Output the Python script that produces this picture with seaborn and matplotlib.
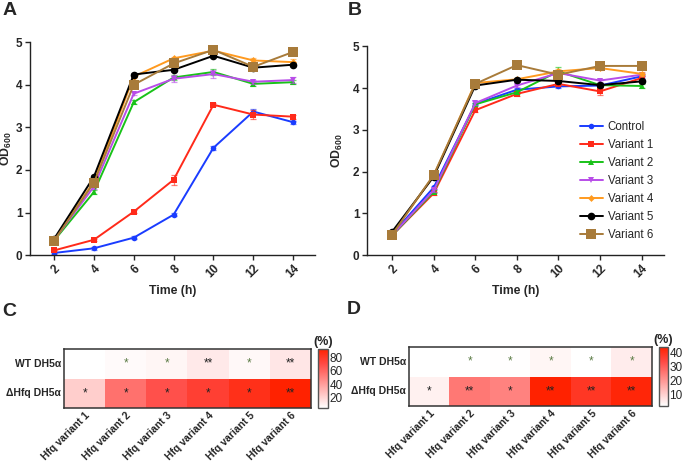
import numpy as np
import pandas as pd
import seaborn as sns
import matplotlib.pyplot as plt
from matplotlib.colors import LinearSegmentedColormap

time_h = [2, 4, 6, 8, 10, 12, 14]
strains = ['Control', 'Variant 1', 'Variant 2', 'Variant 3', 'Variant 4', 'Variant 5', 'Variant 6']

od_a = [
    [0.05, 0.16, 0.41, 0.95, 2.52, 3.37, 3.12],
    [0.11, 0.36, 1.02, 1.77, 3.53, 3.30, 3.25],
    [0.34, 1.48, 3.59, 4.17, 4.30, 4.02, 4.06],
    [0.35, 1.61, 3.79, 4.14, 4.25, 4.07, 4.11],
    [0.35, 1.73, 4.19, 4.62, 4.80, 4.57, 4.53],
    [0.38, 1.84, 4.24, 4.35, 4.68, 4.40, 4.47],
    [0.34, 1.70, 4.00, 4.50, 4.82, 4.42, 4.77],
]
sd_a = [
    [0.02, 0.03, 0.03, 0.04, 0.05, 0.06, 0.04],
    [0.02, 0.03, 0.04, 0.12, 0.04, 0.10, 0.05],
    [0.02, 0.05, 0.04, 0.06, 0.06, 0.04, 0.04],
    [0.02, 0.05, 0.04, 0.08, 0.10, 0.05, 0.06],
    [0.02, 0.04, 0.04, 0.04, 0.04, 0.05, 0.07],
    [0.02, 0.03, 0.03, 0.03, 0.04, 0.04, 0.04],
    [0.02, 0.04, 0.04, 0.04, 0.04, 0.05, 0.04],
]

od_b = [
    [0.50, 1.62, 3.62, 3.96, 4.04, 4.06, 4.28],
    [0.47, 1.48, 3.47, 3.86, 4.10, 3.92, 4.24],
    [0.47, 1.52, 3.61, 3.90, 4.40, 4.07, 4.05],
    [0.48, 1.55, 3.64, 4.06, 4.36, 4.18, 4.32],
    [0.50, 1.90, 4.12, 4.21, 4.40, 4.48, 4.34],
    [0.56, 1.88, 4.06, 4.20, 4.17, 4.07, 4.16],
    [0.49, 1.92, 4.10, 4.55, 4.32, 4.53, 4.53],
]
sd_b = [
    [0.02, 0.04, 0.03, 0.04, 0.04, 0.04, 0.04],
    [0.02, 0.04, 0.04, 0.04, 0.04, 0.08, 0.05],
    [0.02, 0.04, 0.04, 0.05, 0.10, 0.04, 0.04],
    [0.02, 0.04, 0.04, 0.04, 0.04, 0.04, 0.04],
    [0.02, 0.04, 0.04, 0.04, 0.05, 0.05, 0.04],
    [0.02, 0.04, 0.04, 0.04, 0.04, 0.04, 0.04],
    [0.02, 0.04, 0.04, 0.06, 0.06, 0.04, 0.04],
]

colors = ['#1a3cff', '#ff2a1a', '#19c219', '#b84de8', '#ff9a1f', '#000000', '#a87b3a']
markers = ['o', 's', '^', 'v', 'D', 'o', 's']
msizes = [4, 4.5, 4.5, 4.5, 3.5, 5.5, 6.5]

# heatmaps (%), C and D
row_labels = ['WT DH5α', 'ΔHfq DH5α']
col_labels = ['Hfq variant 1', 'Hfq variant 2', 'Hfq variant 3',
              'Hfq variant 4', 'Hfq variant 5', 'Hfq variant 6']
c_wt = [5, 7, 8.5, 13, 7.5, 14]
c_dhfq = [23, 56, 68, 76, 84, 92]
c_stars_wt = ['', '*', '*', '**', '*', '**']
c_stars_dhfq = ['*', '*', '*', '*', '*', '**']
d_wt = [2.3, 2.4, 2.5, 4, 2.4, 5.6]
d_dhfq = [4.8, 25.4, 23.7, 43.5, 38.1, 42.3]
d_stars_wt = ['', '*', '*', '*', '*', '*']
d_stars_dhfq = ['*', '**', '*', '**', '**', '**']

sns.set_style('white')
plt.rcParams['font.family'] = ['Liberation Sans', 'DejaVu Sans']
plt.rcParams['mathtext.fontset'] = 'custom'
plt.rcParams['mathtext.rm'] = 'Liberation Sans:bold'
plt.rcParams['mathtext.bf'] = 'Liberation Sans:bold'

fig = plt.figure(figsize=(6.85, 4.63), dpi=100)
ax_a = fig.add_axes([0.044, 0.449, 0.416, 0.460])
ax_b = fig.add_axes([0.536, 0.449, 0.434, 0.451])


def growth(ax, od, sd, ylab_x, legend=False):
    for i, name in enumerate(strains):
        ax.errorbar(time_h, od[i], yerr=sd[i], fmt='none', ecolor=colors[i],
                    elinewidth=0.9, capsize=2.5, capthick=0.9, alpha=0.6)
        sns.lineplot(x=time_h, y=od[i], ax=ax, color=colors[i], marker=markers[i],
                     markersize=msizes[i], markeredgewidth=0, linewidth=1.4, label=name)
    ax.set_xlim(0.8, 15.1)
    ax.set_ylim(0, 5)
    ax.set_xticks(time_h)
    ax.set_yticks([0, 1, 2, 3, 4, 5])
    for s in ['top', 'right']:
        ax.spines[s].set_visible(False)
    for s in ['left', 'bottom']:
        ax.spines[s].set_linewidth(1.0)
        ax.spines[s].set_color('#222222')
    ax.tick_params(direction='out', length=3.5, width=1, bottom=True, left=True,
                   labelsize=8.5, pad=2)
    for lab in ax.get_xticklabels():
        lab.set_rotation(45)
        lab.set_ha('right')
        lab.set_rotation_mode('anchor')
        lab.set_fontweight('bold')
    for lab in ax.get_yticklabels():
        lab.set_fontweight('bold')
    ax.set_xlabel('Time (h)', fontsize=8.8, fontweight='bold', labelpad=3)
    ax.set_ylabel(r'OD$_{600}$', fontsize=8.8, fontweight='bold')
    ax.yaxis.set_label_coords(ylab_x, 0.5)
    if legend:
        ax.legend(loc='center left', bbox_to_anchor=(0.695, 0.355), frameon=False,
                  fontsize=8.3, handlelength=2.0, handletextpad=0.45,
                  labelspacing=0.52, borderpad=0)
    else:
        ax.get_legend().remove()


growth(ax_a, od_a, sd_a, -0.056)
growth(ax_b, od_b, sd_b, -0.074, legend=True)

cmap = LinearSegmentedColormap.from_list(
    'wr', [(0, '#ffffff'), (0.75, '#ff4a45'), (1, '#ff2200')])


def heat(rect, crect, wt, dhfq, stars_wt, stars_dhfq, ticks):
    ax = fig.add_axes(rect)
    cax = fig.add_axes(crect)
    df = pd.DataFrame([wt, dhfq], index=row_labels, columns=col_labels)
    annot = np.array([stars_wt, stars_dhfq])
    sns.heatmap(df, ax=ax, cbar_ax=cax, cmap=cmap, annot=annot, fmt='',
                annot_kws={'fontsize': 8.5}, cbar_kws={'ticks': ticks})
    for k, t in enumerate(ax.texts):
        if k < 6 and t.get_text() == '*':
            t.set_color('#5b7b45')
        else:
            t.set_color('#222222')
    for s in ax.spines.values():
        s.set_visible(True)
        s.set_linewidth(1.1)
        s.set_color('#333333')
    ax.tick_params(length=0, labelsize=7.5, pad=2)
    ax.set_yticklabels(row_labels, rotation=0, fontweight='bold')
    ax.set_xticklabels(col_labels, rotation=45, ha='right', rotation_mode='anchor',
                       fontweight='bold', fontsize=7.5)
    ax.set_xlabel('')
    ax.set_ylabel('')
    cbar = ax.collections[0].colorbar
    cax.tick_params(direction='in', length=3, width=0.8, labelsize=8.5, pad=1)
    cbar.outline.set_linewidth(1.0)
    cbar.outline.set_edgecolor('#555555')
    cax.set_title('(%)', fontsize=9, fontweight='bold', pad=3)


heat([0.0934, 0.1188, 0.3606, 0.1274], [0.4642, 0.1188, 0.0146, 0.1274],
     c_wt, c_dhfq, c_stars_wt, c_stars_dhfq, [20, 40, 60, 80])
heat([0.597, 0.1231, 0.3547, 0.1274], [0.962, 0.1231, 0.0131, 0.1274],
     d_wt, d_dhfq, d_stars_wt, d_stars_dhfq, [10, 20, 30, 40])

for letter, x, y in [('A', 0.004, 0.995), ('B', 0.508, 0.995),
                     ('C', 0.004, 0.345), ('D', 0.506, 0.35)]:
    fig.text(x, y, letter, fontsize=14, fontweight='bold', va='top', ha='left')

fig.savefig('out.png', dpi=100)
